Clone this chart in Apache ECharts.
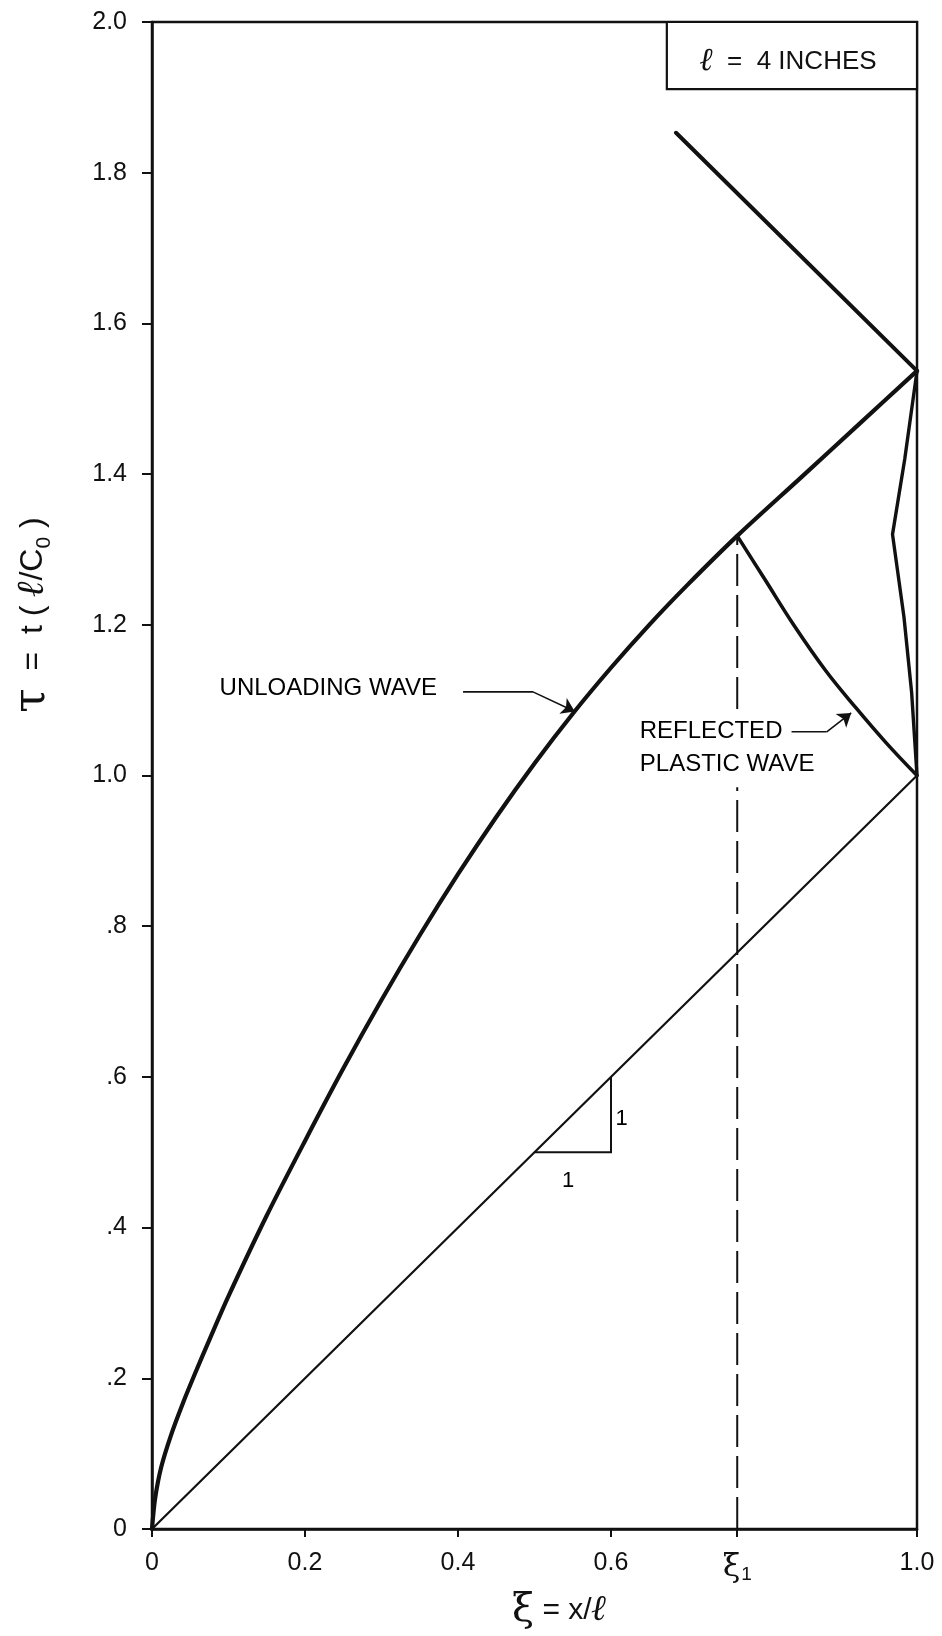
<!DOCTYPE html>
<html><head><meta charset="utf-8">
<script src="https://cdn.jsdelivr.net/npm/echarts@6/dist/echarts.min.js"></script>
<style>html,body{margin:0;padding:0;background:#fff}#c{width:942px;height:1636px}</style>
</head><body><div id="c"></div>
<script>
// ---- data (ξ, τ) ----
const xTickValues = [0, 0.2, 0.4, 0.6, 0.765, 1.0];
const xTickLabels = ['0', '0.2', '0.4', '0.6', '{xi|ξ}{sub|1}', '1.0'];
const yTickValues = [0, 0.2, 0.4, 0.6, 0.8, 1.0, 1.2, 1.4, 1.6, 1.8, 2.0];
const yTickLabels = ['0', '.2', '.4', '.6', '.8', '1.0', '1.2', '1.4', '1.6', '1.8', '2.0'];

const elasticWave = [[0, 0], [1.0, 1.0]];
const unloadingWave = [[0, 0], [0.004, 0.04], [0.012, 0.082], [0.025, 0.125], [0.04, 0.166], [0.0557, 0.205],
  [0.075, 0.251], [0.1, 0.309], [0.15, 0.416], [0.2, 0.515], [0.25, 0.611], [0.3, 0.702], [0.35, 0.788],
  [0.4, 0.869], [0.45, 0.945], [0.5, 1.016], [0.55, 1.082], [0.6, 1.143], [0.65, 1.2], [0.7, 1.253],
  [0.765, 1.318], [0.85, 1.397], [0.925, 1.467], [1.0, 1.537]];
const reflectedPlasticWave = [[0.765, 1.318], [0.80, 1.262], [0.84, 1.198], [0.88, 1.140], [0.92, 1.090], [0.96, 1.043], [1.0, 1.0]];
const endReflection = [[1.0, 1.0], [0.993, 1.11], [0.983, 1.21], [0.968, 1.32], [0.984, 1.42], [1.0, 1.537]];
const secondWave = [[0.685, 1.853], [1.0, 1.537]];
const xi1Line = [[0.765, 0], [0.765, 1.318]];
const slopeTriangle = [[0.5, 0.5], [0.6, 0.5], [0.6, 0.6]];
const unloadingLeader = [[0.4066, 1.111], [0.498, 1.111], [0.5527, 1.085]];
const reflectedLeader = [[0.836, 1.058], [0.882, 1.058], [0.914, 1.083]];
const legendBox = [[0.673, 2.0], [1.0, 1.911]];
const legendText = '{l|ℓ}  =  4 INCHES';
const notes = [
  { text: 'UNLOADING WAVE', at: [0.0883, 1.116] },
  { text: 'REFLECTED\nPLASTIC WAVE', at: [0.635, 1.036], boxed: true },
  { text: '1', at: [0.544, 0.462] },
  { text: '1', at: [0.614, 0.544] }
];

const INK = '#111';
const FONT = '"Liberation Sans", Arial, sans-serif';

function lineSeries(name, data, width, extra) {
  return Object.assign({
    name: name, type: 'line', data: data, showSymbol: false, symbol: 'none',
    smooth: false, silent: true, z: 3,
    lineStyle: { color: INK, width: width, cap: 'round', join: 'round' }
  }, extra || {});
}

function leaderSeries(name, pts) {
  return {
    name: name, type: 'line', data: pts.slice(0, 2), showSymbol: false, symbol: 'none', silent: true, z: 6,
    lineStyle: { color: INK, width: 1.6 },
    markLine: {
      silent: true, animation: false, symbol: ['none', 'arrow'], symbolSize: 13,
      label: { show: false },
      lineStyle: { color: INK, width: 1.6, type: 'solid' },
      itemStyle: { color: INK },
      data: [[{ coord: pts[1] }, { coord: pts[2] }]]
    }
  };
}

const chart = echarts.init(document.getElementById('c'), null, { renderer: 'canvas' });
chart.setOption({
  animation: false,
  backgroundColor: '#fff',
  grid: { left: 152, right: 25, top: 22, bottom: 103, show: true, borderColor: INK, borderWidth: 2.5, backgroundColor: 'transparent' },
  xAxis: {
    type: 'value', min: 0, max: 1.0,
    axisLine: { show: true, onZero: false, lineStyle: { color: INK, width: 2.5 } },
    axisTick: { show: true, length: 8, customValues: xTickValues, lineStyle: { color: INK, width: 2 } },
    splitLine: { show: false },
    axisLabel: {
      customValues: xTickValues, margin: 22, color: INK, fontSize: 25, fontFamily: FONT,
      formatter: function (v) {
        let i = xTickValues.findIndex(t => Math.abs(t - v) < 1e-6);
        return i >= 0 ? xTickLabels[i] : '';
      },
      rich: {
        xi: { fontSize: 32, fontFamily: 'DejaVu Serif, serif', color: INK },
        sub: { fontSize: 19, fontFamily: FONT, color: INK, verticalAlign: 'bottom', padding: [14, 0, 0, 1] }
      }
    },
    name: '{xi|ξ} = x/{l|ℓ}', nameLocation: 'middle', nameGap: 62,
    nameTextStyle: {
      color: INK, fontSize: 30, fontFamily: FONT, padding: [0, 0, 0, 50],
      rich: {
        xi: { fontSize: 40, fontFamily: 'DejaVu Serif, serif', color: INK },
        l: { fontSize: 36, fontFamily: 'DejaVu Serif, serif', fontWeight: 'bold', fontStyle: 'italic', color: INK }
      }
    }
  },
  yAxis: {
    type: 'value', min: 0, max: 2.0, interval: 0.2,
    axisLine: { show: true, onZero: false, lineStyle: { color: INK, width: 2.5 } },
    axisTick: { show: true, length: 10, lineStyle: { color: INK, width: 2 } },
    splitLine: { show: false },
    axisLabel: {
      margin: 25, color: INK, fontSize: 25, fontFamily: FONT,
      formatter: function (v) {
        let i = yTickValues.findIndex(t => Math.abs(t - v) < 1e-6);
        return i >= 0 ? yTickLabels[i] : '';
      }
    }
  },
  graphic: [{
    type: 'text', x: 33, y: 615, rotation: Math.PI / 2, silent: true,
    style: {
      text: '{t|τ}  =  t ( {l|ℓ}/C{s|0} )',
      x: 0, y: 0, align: 'center', verticalAlign: 'middle', textAlign: 'center', textVerticalAlign: 'middle',
      fill: INK, font: '32px "Liberation Sans", Arial, sans-serif',
      rich: {
        t: { fontSize: 44, fontFamily: 'DejaVu Serif, serif', fill: INK, color: INK },
        l: { fontSize: 38, fontFamily: 'DejaVu Serif, serif', fontWeight: 'bold', fontStyle: 'italic', fill: INK, color: INK },
        s: { fontSize: 21, fill: INK, color: INK, verticalAlign: 'bottom', padding: [15, 0, 0, 0] }
      }
    }
  }],
  series: [
    lineSeries('elastic', elasticWave, 2.2),
    lineSeries('xi1', xi1Line, 2, { z: 2, lineStyle: { color: INK, width: 2, type: [32, 9] } }),
    lineSeries('unloading', unloadingWave, 4.2, { smooth: 0.3 }),
    lineSeries('reflected', reflectedPlasticWave, 3.6, { smooth: 0.4 }),
    lineSeries('endReflection', endReflection, 3.4),
    lineSeries('second', secondWave, 4),
    lineSeries('triangle', slopeTriangle, 2, { lineStyle: { color: INK, width: 2, join: 'miter' } }),
    leaderSeries('leader1', unloadingLeader),
    leaderSeries('leader2', reflectedLeader),
    {
      name: 'box', type: 'line', data: [], silent: true, z: 4,
      markArea: {
        silent: true,
        itemStyle: { color: 'rgba(255,255,255,1)', borderColor: INK, borderWidth: 2.2, opacity: 1 },
        label: {
          show: true, position: 'inside', offset: [-4, 6], color: INK, fontSize: 26, fontFamily: FONT,
          formatter: legendText,
          rich: { l: { fontSize: 32, fontFamily: 'DejaVu Serif, serif', fontStyle: 'italic', color: INK } }
        },
        data: [[{ coord: legendBox[0] }, { coord: legendBox[1] }]]
      }
    },
    {
      name: 'notes', type: 'scatter', symbolSize: 0, silent: true, z: 4,
      itemStyle: { opacity: 1, color: INK },
      data: notes.map(n => ({
        value: n.at,
        label: {
          show: true, formatter: n.text,
          position: n.text === '1' ? 'inside' : 'right', distance: 0,
          align: n.text === '1' ? 'center' : 'left',
          color: '#000', opacity: 1, textBorderWidth: 0,
          fontFamily: FONT, fontSize: n.text === '1' ? 22 : 24,
          lineHeight: 33,
          backgroundColor: n.boxed ? '#fff' : 'transparent',
          padding: n.boxed ? [6, 4, 6, 2] : 0
        }
      }))
    }
  ]
});
</script>
</body></html>
